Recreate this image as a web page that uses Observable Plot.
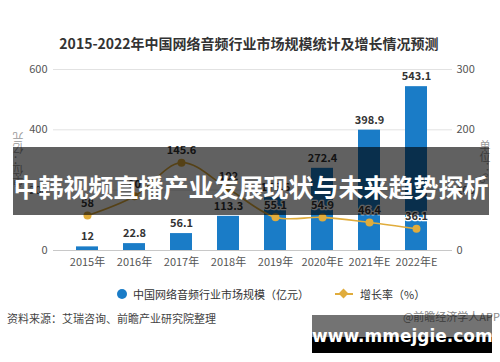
<!DOCTYPE html>
<html>
<head>
<meta charset="utf-8">
<script src="https://cdn.jsdelivr.net/npm/d3@7"></script>
<script src="https://cdn.jsdelivr.net/npm/@observablehq/plot@0.6"></script>
<style>
  html, body { margin: 0; padding: 0; background: #fff; }
  body { width: 500px; height: 362px; overflow: hidden; font-family: "Noto Sans CJK SC", "Noto Sans", sans-serif; }
  #wrap { position: relative; width: 500px; height: 362px; }
  #chart { position: absolute; left: 0; top: 0; }
  .abs { position: absolute; white-space: nowrap; }
  #title { left: 0; width: 498px; top: 33px; text-align: center; font-size: 14px; font-weight: bold; color: #333; line-height: 20px; }
  #banner { left: 13px; top: 147px; width: 476px; height: 68px; background: rgba(0,0,0,0.62); }
  #bannerText { left: 13px; width: 476px; top: 169px; text-align: center; font-size: 25px; font-weight: bold; color: #fff; line-height: 34px; }
  #legend { left: 117px; top: 285px; font-size: 11px; color: #333; line-height: 18px; display: flex; align-items: center; }
  .sw-dot { display: inline-block; width: 10px; height: 10px; border-radius: 50%; background: #1a7cc7; margin-right: 6px; }
  .sw-line { display: inline-block; position: relative; width: 18px; height: 10px; margin: 0 7px 0 26px; }
  .sw-line::before { content: ""; position: absolute; left: 0; right: 0; top: 4px; height: 2px; background: #e0ac3c; }
  .sw-line::after { content: ""; position: absolute; left: 5px; top: 1px; width: 7px; height: 7px; background: #e0ac3c; transform: rotate(45deg); }
  #source { left: 7px; top: 309px; font-size: 11px; color: #444; line-height: 18px; }
  #credit { right: 0px; top: 307px; font-size: 11px; color: #888; line-height: 18px; }
  #wm { left: 312px; top: 315px; width: 180px; height: 38px; background: linear-gradient(rgba(0,0,0,0.55) 0 58%, #000 58% 100%); }
  #wmText { left: 312px; width: 178px; top: 324px; text-align: center; font-family: "DejaVu Sans", sans-serif; font-size: 17px; font-weight: bold; color: #fff; line-height: 24px; }
  .axt { font-size: 11px; color: #999; line-height: 14px; }
  #ytl { left: 11px; top: 132px; writing-mode: vertical-rl; transform: rotate(180deg); }
  #ytr { left: 478px; top: 140px; writing-mode: vertical-rl; }
</style>
</head>
<body>
<div id="wrap">
  <div id="chart"></div>
  <div class="abs" id="title">2015-2022年中国网络音频行业市场规模统计及增长情况预测</div>
  <div class="abs axt" id="ytl">单位：亿元</div>
  <div class="abs axt" id="ytr">单位：%</div>
  <div class="abs" id="legend"><span class="sw-dot"></span>中国网络音频行业市场规模（亿元）<span class="sw-line"></span>增长率（%）</div>
  <div class="abs" id="source">资料来源：艾瑞咨询、前瞻产业研究院整理</div>
  <div class="abs" id="credit">@前瞻经济学人APP</div>
  <div class="abs" id="banner"></div>
  <div class="abs" id="bannerText">中韩视频直播产业发展现状与未来趋势探析</div>
  <div class="abs" id="wm"></div>
  <div class="abs" id="wmText">www.mmejgie.com</div>
</div>
<script>
// Data
const years = ["2015年", "2016年", "2017年", "2018年", "2019年", "2020年E", "2021年E", "2022年E"];
const marketSize = [12, 22.8, 56.1, 113.3, 175.6, 272.4, 398.9, 543.1];
const growthRate = [58, 90, 145.6, 102, 55.1, 54.9, 46.4, 36.1];
const leftTicks = [0, 200, 400, 600];
const rightTicks = [0, 100, 200, 300];

const rows = years.map((y, i) => ({year: y, size: marketSize[i], rate: growthRate[i]}));
const rateFactor = 600 / 300; // right axis 0–300 mapped onto left 0–600

const blue = "#1a7cc7";
const gold = "#e0ac3c";

const chart = Plot.plot({
  width: 500,
  height: 362,
  marginTop: 69,
  marginBottom: 112,
  marginLeft: 53,
  marginRight: 48,
  style: {fontFamily: "'Noto Sans CJK SC', 'Noto Sans', sans-serif", fontSize: "11px", background: "transparent"},
  x: {type: "band", domain: years, paddingInner: 0.54, paddingOuter: 0.27, insetLeft: 8, insetRight: 11, axis: null, label: null},
  y: {domain: [0, 600], axis: null, label: null},
  marks: [
    Plot.gridY(leftTicks.filter(d => d > 0), {stroke: "#e2e2e2", strokeOpacity: 1}),
    Plot.ruleY([0], {stroke: "#c8c8c8"}),
    Plot.barY(rows, {x: "year", y: "size", fill: blue}),
    Plot.text(rows, {x: "year", y: "size", text: d => String(d.size), dy: -10, fill: "#333", fontWeight: "bold", fontSize: 11}),
    Plot.line(rows, {x: "year", y: d => d.rate * rateFactor, stroke: gold, strokeWidth: 1.6, curve: "catmull-rom"}),
    Plot.dot(rows, {x: "year", y: d => d.rate * rateFactor, r: 4, fill: gold}),
    Plot.text(rows, {x: "year", y: d => d.rate * rateFactor, text: d => String(d.rate), dy: -12, fill: "#333", stroke: "white", strokeWidth: 2.5, fontWeight: "bold", fontSize: 11}),
    Plot.axisY(leftTicks, {anchor: "left", label: null, tickSize: 0, tickPadding: 6, color: "#555", fontSize: 11}),
    Plot.axisY(leftTicks, {anchor: "right", label: null, tickSize: 0, tickPadding: 4, color: "#555", fontSize: 11, tickFormat: (d, i) => String(rightTicks[i])}),
    Plot.axisX({anchor: "bottom", label: null, tickSize: 0, tickPadding: 8, color: "#555", fontSize: 11})
  ]
});
document.getElementById("chart").appendChild(chart);
</script>
</body>
</html>
